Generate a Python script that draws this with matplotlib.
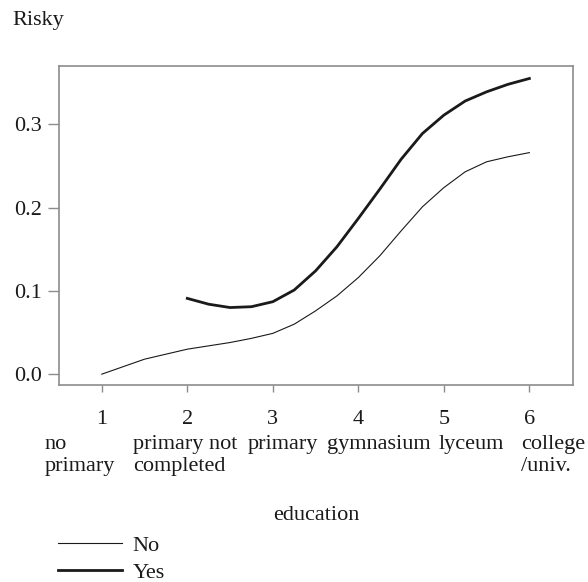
import numpy as np
import matplotlib
matplotlib.use("Agg")
import matplotlib.pyplot as plt
import matplotlib.transforms as mtransforms

plt.rcParams["font.family"] = ["Liberation Serif", "DejaVu Serif"]
plt.rcParams["font.size"] = 16

# education codes and labels
edu_codes = [1, 2, 3, 4, 5, 6]
edu_names = ["no\nprimary", "primary not\ncompleted", "primary",
             "gymnasium", "lyceum", "college\n/univ."]

# fitted curves
x_no = [1, 1.25, 1.5, 1.75, 2, 2.25, 2.5, 2.75, 3, 3.25, 3.5, 3.75,
        4, 4.25, 4.5, 4.75, 5, 5.25, 5.5, 5.75, 6]
risky_no = [0.000, 0.009, 0.018, 0.024, 0.030, 0.034, 0.038, 0.043, 0.049,
            0.060, 0.076, 0.094, 0.116, 0.142, 0.172, 0.201, 0.224, 0.243,
            0.255, 0.261, 0.266]

x_yes = [2, 2.25, 2.5, 2.75, 3, 3.25, 3.5, 3.75, 4, 4.25, 4.5, 4.75,
         5, 5.25, 5.5, 5.75, 6]
risky_yes = [0.091, 0.084, 0.080, 0.081, 0.087, 0.101, 0.124, 0.153, 0.187,
             0.222, 0.258, 0.289, 0.311, 0.328, 0.339, 0.348, 0.355]

yticks = [0.0, 0.1, 0.2, 0.3]

W, H = 588, 582
fig = plt.figure(figsize=(W / 100, H / 100), dpi=100)
ax = fig.add_axes([59 / W, 1 - 385 / H, (573 - 59) / W, (385 - 66) / H])

ink = "#1a1a1a"
grey = "#8c8c8c"

l_no, = ax.plot(x_no, risky_no, color=ink, lw=0.8, label="No")
l_yes, = ax.plot(x_yes, risky_yes, color=ink, lw=2.0, label="Yes")

ax.set_xlim(0.5, 6.51)
ax.set_ylim(-0.013, 0.37)

for s in ax.spines.values():
    s.set_color(grey)
    s.set_linewidth(1.2)

ax.set_yticks(yticks)
ax.set_yticklabels([f"{v:.1f}" for v in yticks])
ax.tick_params(axis="y", length=8, width=1, color=grey, pad=4, labelcolor=ink)
ax.set_xticks(edu_codes)
ax.set_xticklabels([str(c) for c in edu_codes])
ax.tick_params(axis="x", length=5, width=1, color=grey, pad=13, labelcolor=ink)

# category names, left aligned under the tick numbers
name_shift = [-0.667, -0.632, -0.292, -0.363, -0.058, -0.094]
trans = mtransforms.blended_transform_factory(ax.transData, fig.transFigure)
for c, name, dx in zip(edu_codes, edu_names, name_shift):
    ax.text(c + dx, 1 - 435 / H, name, transform=trans, ha="left", va="top",
            color=ink, linespacing=1.2)

ax.set_xlabel("education", color=ink)
ax.xaxis.set_label_coords(0.5, (1 - 515 / H - (1 - 385 / H)) / ((385 - 66) / H))
ax.xaxis.label.set_va("center")

fig.text(12 / W, 1 - 21 / H, "Risky", ha="left", va="center", color=ink)

fig.legend(handles=[l_no, l_yes], loc="upper left",
           bbox_to_anchor=(58 / W, 1 - 535 / H), frameon=False,
           borderpad=0, borderaxespad=0, handlelength=2.9, handletextpad=0.45,
           labelspacing=0.3, labelcolor=ink)

fig.savefig("out.png", dpi=100)
